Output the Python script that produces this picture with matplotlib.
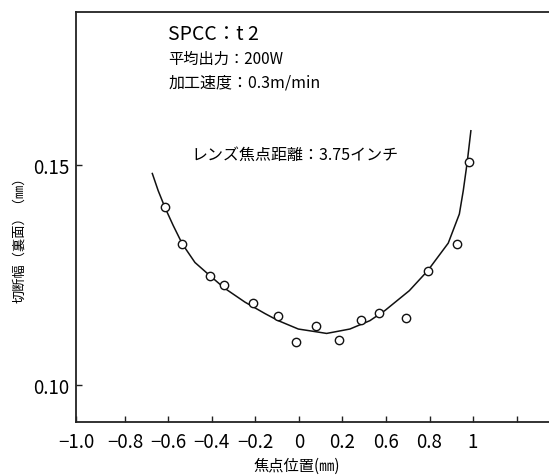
import matplotlib
matplotlib.use('Agg')
import matplotlib.pyplot as plt

plt.rcParams['font.family'] = ['Noto Sans CJK JP', 'DejaVu Sans']

# 測定点: 焦点位置 (mm) と 切断幅 (mm)
focus_pos = [-0.616, -0.536, -0.409, -0.343, -0.213, -0.098, -0.015, 0.080,
             0.185, 0.285, 0.370, 0.492, 0.591, 0.725, 0.780]
kerf_width = [0.1403, 0.1320, 0.1248, 0.1228, 0.1185, 0.1157, 0.1097, 0.1133,
              0.1101, 0.1148, 0.1164, 0.1151, 0.1259, 0.1321, 0.1505]

# 近似曲線 (手書きの傾向線)
curve_x = [-0.674, -0.647, -0.616, -0.578, -0.536, -0.478, -0.409, -0.343,
           -0.248, -0.156, -0.095, -0.003, 0.089, 0.127, 0.234, 0.326,
           0.395, 0.507, 0.591, 0.686, 0.737, 0.755, 0.773, 0.790]
curve_y = [0.1480, 0.1441, 0.1403, 0.1362, 0.1320, 0.1278, 0.1248, 0.1220,
           0.1188, 0.1162, 0.1146, 0.1127, 0.1120, 0.1117, 0.1127, 0.1146,
           0.1169, 0.1214, 0.1259, 0.1322, 0.1388, 0.1441, 0.1505, 0.1577]

# 軸の目盛り (ラベルは原図の表記どおり)
x_min, x_max = -1.0225, 1.149
x_ticks = [x_min, -0.8, -0.6, -0.4, -0.2, 0.0, 0.2, 0.4, 0.6, 0.8, 1.0]
x_tick_labels = ['−1.0', '−0.8', '−0.6', '−0.4', '−0.2', '0', '0.2', '0.6', '0.8', '1', '']
y_ticks = [0.10, 0.15]
y_tick_labels = ['0.10', '0.15']

fig = plt.figure(figsize=(5.49, 4.77), dpi=100)
ax = fig.add_axes([0.1393, 0.1122, 0.8607, 0.8595])

ax.plot(curve_x, curve_y, color='#111111', lw=1.1, solid_joinstyle='round', zorder=2)
ax.plot(focus_pos, kerf_width, linestyle='none', marker='o', ms=6,
        mfc='white', mec='#111111', mew=1.0, zorder=3)

ax.set_xlim(x_min, x_max)
ax.set_ylim(0.09149, 0.18454)
ax.set_xticks(x_ticks)
ax.set_xticklabels(x_tick_labels)
ax.set_yticks(y_ticks)
ax.set_yticklabels(y_tick_labels)
ax.tick_params(direction='in', length=4, width=1.0, labelsize=13.5, color='#222222')
ax.tick_params(axis='x', pad=6)
ax.tick_params(axis='y', pad=5)

for side in ['left', 'bottom', 'top']:
    ax.spines[side].set_linewidth(1.3)
    ax.spines[side].set_color('#222222')
ax.spines['right'].set_visible(False)

ax.set_xlabel('焦点位置(㎜)', fontsize=11, va='center')
ax.xaxis.set_label_coords(0.4667, -0.104)
ax.set_ylabel('切断幅（裏面）（㎜）', fontsize=9.5, va='center')
ax.yaxis.set_label_coords(-0.1196, 0.455)

# 加工条件
ax.text(0.194, 0.9476, 'SPCC：t 2', transform=ax.transAxes, fontsize=14, va='center')
ax.text(0.194, 0.887, '平均出力：200W', transform=ax.transAxes, fontsize=11, va='center')
ax.text(0.194, 0.830, '加工速度：0.3m/min', transform=ax.transAxes, fontsize=11.5, va='center')
ax.text(0.244, 0.655, 'レンズ焦点距離：3.75インチ', transform=ax.transAxes, fontsize=11.5, va='center')

fig.savefig('out.png', dpi=100)
